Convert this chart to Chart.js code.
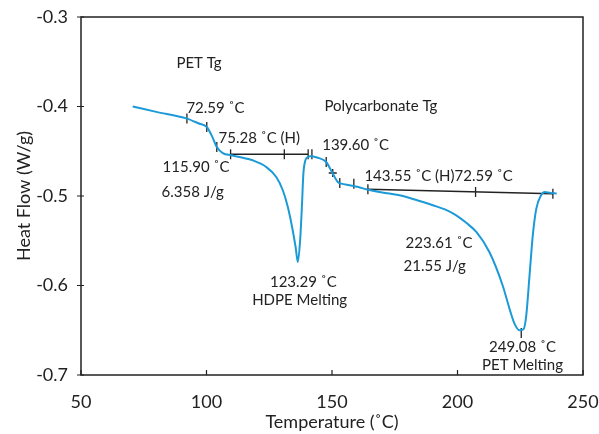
<!DOCTYPE html>
<html>
<head>
<meta charset="utf-8">
<script src="https://cdn.jsdelivr.net/npm/chart.js@4.4.1/dist/chart.umd.min.js"></script>
<style>
  html, body { margin: 0; padding: 0; background: #fff; }
  #wrap { width: 599px; height: 434px; }
</style>
</head>
<body>
<div id="wrap"><canvas id="grafico" width="599" height="434"></canvas></div>
<script>
// curva DSC
const temperatura = [70.6, 80, 92.2, 97, 100.1, 102, 104.1, 106.5, 109.8, 114, 118.4, 123.8, 127.8, 130.4, 132.4, 134.1, 135.5, 136.4, 137.3, 138.0, 138.6, 139.4, 140.4, 141.3, 144, 147.7, 150.3, 152.3, 153.7, 157.0, 160.5, 163.6, 170, 176.9, 183, 190.2, 195, 199.5, 203.5, 207.5, 212.7, 218.0, 220.7, 222.7, 224.7, 226.3, 227.4, 228.7, 230.0, 231.4, 233.3, 234.7, 237, 239.5]
const fluxo = [-0.400, -0.406, -0.4135, -0.419, -0.4229, -0.432, -0.4453, -0.452, -0.4545, -0.457, -0.4601, -0.4676, -0.4788, -0.4936, -0.5123, -0.5346, -0.557, -0.5737, -0.5495, -0.5123, -0.475, -0.4601, -0.4564, -0.4556, -0.457, -0.462, -0.475, -0.4844, -0.4862, -0.488, -0.490, -0.4925, -0.496, -0.4992, -0.504, -0.5104, -0.515, -0.5216, -0.530, -0.5402, -0.5626, -0.600, -0.6258, -0.6426, -0.650, -0.6489, -0.6333, -0.5886, -0.5439, -0.5141, -0.4992, -0.4955, -0.4965, -0.4973]

// linhas de base
const base1X = [109.6, 140.4]
const base1Y = [-0.4534, -0.4534]
const base2X = [164.3, 238]
const base2Y = [-0.4925, -0.4975]

// marcadores
const marcasX = [92.2, 100.1, 104.1, 109.6, 131.0, 140.5, 142.0, 147.7, 153.1, 158.7, 164.3, 207.2, 238, 225.4]
const marcasY = [-0.4135, -0.4229, -0.4453, -0.4534, -0.4534, -0.4534, -0.4534, -0.462, -0.4855, -0.4862, -0.4925, -0.4955, -0.4975, -0.653]
const cruzX = [150.3]
const cruzY = [-0.4743]

// textos
const textos = ['PET Tg', '72.59 ˚C', '75.28 ˚C (H)', '115.90 ˚C', '6.358 J/g', 'Polycarbonate Tg', '139.60 ˚C', '143.55 ˚C (H)72.59 ˚C', '123.29 ˚C', 'HDPE Melting', '223.61 ˚C', '21.55 J/g', '249.08 ˚C', 'PET Melting']
const textosX = [88.0, 92.0, 104.8, 82.5, 82.1, 147.0, 146.1, 162.9, 138.6, 137.1, 179.3, 178.5, 225.9, 225.9]
const textosY = [-0.3517, -0.4017, -0.4355, -0.4676, -0.4955, -0.3998, -0.4434, -0.478, -0.596, -0.6166, -0.5532, -0.5786, -0.6687, -0.6892]
const textosAlinh = ['left', 'left', 'left', 'left', 'left', 'left', 'left', 'left', 'center', 'center', 'left', 'left', 'center', 'center']

const xTicks = [50, 100, 150, 200, 250]
const yTicks = [-0.3, -0.4, -0.5, -0.6, -0.7]

const fonte = 'Lato'
const cor = '#222'

function pares(xs, ys) {
  return xs.map((x, i) => ({ x: x, y: ys[i] }))
}

const pluginMoldura = {
  id: 'moldura',
  afterDatasetsDraw(chart) {
    const ctx = chart.ctx
    const a = chart.chartArea
    const sx = chart.scales.x
    const sy = chart.scales.y
    ctx.save()
    ctx.strokeStyle = cor
    ctx.lineWidth = 1.5
    ctx.strokeRect(a.left, a.top, a.right - a.left, a.bottom - a.top)
    // marcas dos eixos
    ctx.lineWidth = 1.2
    ctx.beginPath()
    xTicks.forEach(v => {
      const px = sx.getPixelForValue(v)
      ctx.moveTo(px, a.bottom)
      ctx.lineTo(px, a.bottom - 5)
    })
    yTicks.forEach(v => {
      const py = sy.getPixelForValue(v)
      ctx.moveTo(a.left - 4, py)
      ctx.lineTo(a.left + 3, py)
    })
    ctx.stroke()
    // anotações
    ctx.fillStyle = cor
    ctx.font = '15px ' + fonte
    ctx.textBaseline = 'middle'
    textos.forEach((t, i) => {
      ctx.textAlign = textosAlinh[i]
      ctx.fillText(t, sx.getPixelForValue(textosX[i]), sy.getPixelForValue(textosY[i]))
    })
    ctx.restore()
  }
}

new Chart(document.getElementById('grafico'), {
  type: 'scatter',
  data: {
    datasets: [
      {
        data: pares(temperatura, fluxo),
        showLine: true,
        borderColor: '#1c9ad8',
        borderWidth: 2,
        pointRadius: 0,
        cubicInterpolationMode: 'monotone'
      },
      {
        data: pares(base1X, base1Y),
        showLine: true,
        borderColor: cor,
        borderWidth: 1.5,
        pointRadius: 0
      },
      {
        data: pares(base2X, base2Y),
        showLine: true,
        borderColor: cor,
        borderWidth: 1.5,
        pointRadius: 0
      },
      {
        data: pares(marcasX, marcasY),
        pointStyle: 'line',
        rotation: 90,
        pointRadius: 5,
        borderColor: cor,
        borderWidth: 1.3
      },
      {
        data: pares(cruzX, cruzY),
        pointStyle: 'cross',
        pointRadius: 4,
        borderColor: cor,
        borderWidth: 1.3
      }
    ]
  },
  options: {
    responsive: false,
    animation: false,
    layout: { padding: { top: 17, right: 16, left: 0, bottom: 0 } },
    plugins: {
      legend: { display: false },
      tooltip: { enabled: false }
    },
    scales: {
      x: {
        type: 'linear',
        min: 50,
        max: 250,
        afterBuildTicks: s => { s.ticks = xTicks.map(v => ({ value: v })) },
        afterFit: s => { s.height = 59; s.paddingLeft = 0; s.paddingRight = 0 },
        grid: { display: false },
        border: { display: false },
        ticks: { color: cor, padding: 8, font: { family: fonte, size: 18 } },
        title: { display: true, text: 'Temperature (˚C)', color: cor, padding: { top: 0, bottom: 1 }, font: { family: fonte, size: 18 } }
      },
      y: {
        type: 'linear',
        min: -0.7,
        max: -0.3,
        afterBuildTicks: s => { s.ticks = yTicks.map(v => ({ value: v })) },
        afterFit: s => { s.width = 81; s.paddingTop = 0; s.paddingBottom = 0 },
        grid: { display: false },
        border: { display: false },
        ticks: { color: cor, padding: 5, font: { family: fonte, size: 18 }, callback: v => v.toFixed(1) },
        title: { display: true, text: 'Heat Flow (W/g)', color: cor, padding: { top: 13, bottom: 0 }, font: { family: fonte, size: 18 } }
      }
    }
  },
  plugins: [pluginMoldura]
})
</script>
</body>
</html>
